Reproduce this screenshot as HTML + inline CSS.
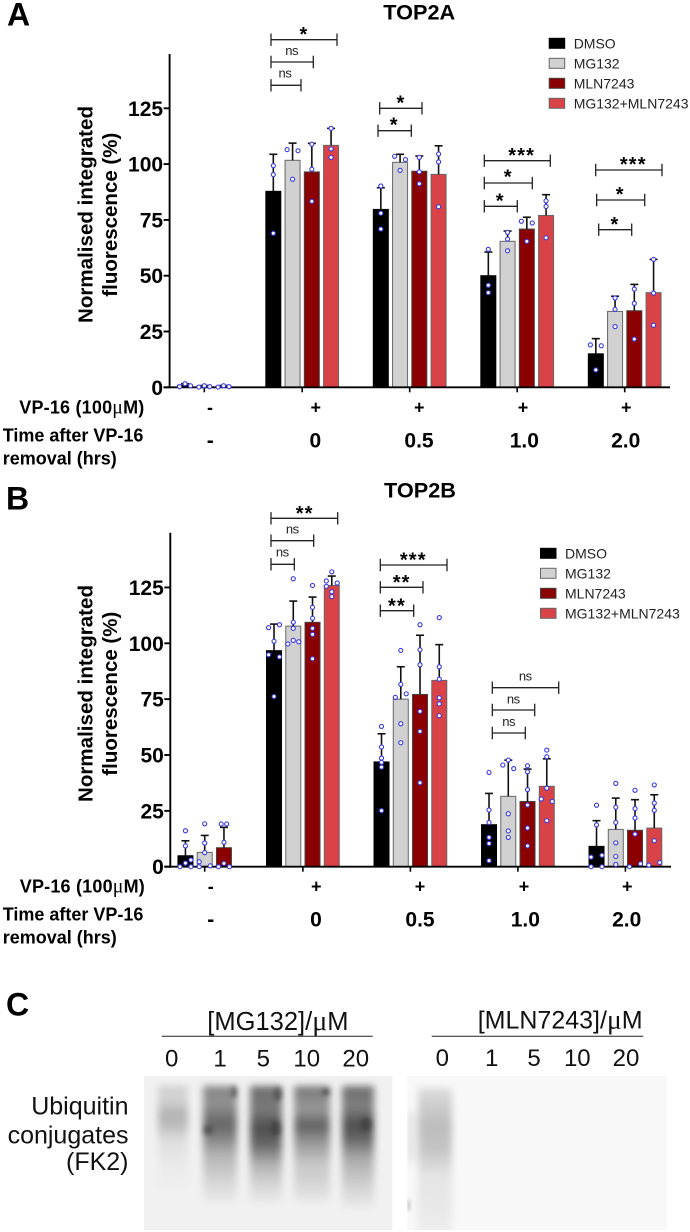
<!DOCTYPE html>
<html lang="en">
<head>
<meta charset="utf-8">
<title>TOP2A and TOP2B normalised fluorescence with ubiquitin blot</title>
<style>
html,body{margin:0;padding:0;background:#fff;}
svg{display:block;font-family:"Liberation Sans",sans-serif;}
.b{font-weight:bold;fill:#000;}
.mu{font-family:"Liberation Serif",serif;font-weight:normal;font-size:1.1em;}
</style>
</head>
<body>
<svg id="figure" xmlns="http://www.w3.org/2000/svg" width="690" height="1232" viewBox="0 0 690 1232">
  <defs>
    <filter id="blur-lane" x="-40%" y="-20%" width="180%" height="140%"><feGaussianBlur stdDeviation="3.6"/></filter>
    <filter id="blur-spot" x="-100%" y="-100%" width="300%" height="300%"><feGaussianBlur stdDeviation="2"/></filter>
    <clipPath id="clip-blot-left"><rect x="144" y="1076" width="248.3" height="154"/></clipPath>
    <clipPath id="clip-blot-right"><rect x="407.3" y="1076" width="259.4" height="154"/></clipPath>
    <linearGradient id="lane1" gradientUnits="userSpaceOnUse" x1="0" y1="1086" x2="0" y2="1190">
      <stop offset="0" stop-color="#cdcdcd"/><stop offset=".12" stop-color="#d4d4d4"/><stop offset=".28" stop-color="#b2b2b2"/><stop offset=".38" stop-color="#bcbcbc"/><stop offset=".52" stop-color="#dedede"/><stop offset=".8" stop-color="#ebebeb"/><stop offset="1" stop-color="#f0f0f0"/>
    </linearGradient>
    <linearGradient id="lane2" gradientUnits="userSpaceOnUse" x1="0" y1="1086" x2="0" y2="1203">
      <stop offset="0" stop-color="#858585"/><stop offset=".15" stop-color="#929292"/><stop offset=".32" stop-color="#666"/><stop offset=".42" stop-color="#7c7c7c"/><stop offset=".58" stop-color="#b2b2b2"/><stop offset=".82" stop-color="#d6d6d6"/><stop offset="1" stop-color="#ebebeb"/>
    </linearGradient>
    <linearGradient id="lane3" gradientUnits="userSpaceOnUse" x1="0" y1="1086" x2="0" y2="1203">
      <stop offset="0" stop-color="#6e6e6e"/><stop offset=".2" stop-color="#7a7a7a"/><stop offset=".36" stop-color="#4e4e4e"/><stop offset=".5" stop-color="#686868"/><stop offset=".68" stop-color="#b4b4b4"/><stop offset=".86" stop-color="#d8d8d8"/><stop offset="1" stop-color="#eaeaea"/>
    </linearGradient>
    <linearGradient id="lane4" gradientUnits="userSpaceOnUse" x1="0" y1="1086" x2="0" y2="1203">
      <stop offset="0" stop-color="#787878"/><stop offset=".2" stop-color="#989898"/><stop offset=".34" stop-color="#606060"/><stop offset=".46" stop-color="#909090"/><stop offset=".65" stop-color="#c4c4c4"/><stop offset=".86" stop-color="#d8d8d8"/><stop offset="1" stop-color="#ebebeb"/>
    </linearGradient>
    <linearGradient id="lane5" gradientUnits="userSpaceOnUse" x1="0" y1="1086" x2="0" y2="1208">
      <stop offset="0" stop-color="#6e6e6e"/><stop offset=".17" stop-color="#808080"/><stop offset=".32" stop-color="#505050"/><stop offset=".42" stop-color="#626262"/><stop offset=".6" stop-color="#acacac"/><stop offset=".84" stop-color="#d4d4d4"/><stop offset="1" stop-color="#ebebeb"/>
    </linearGradient>
    <linearGradient id="lane6" gradientUnits="userSpaceOnUse" x1="0" y1="1086" x2="0" y2="1230">
      <stop offset="0" stop-color="#dedede"/><stop offset=".28" stop-color="#bcbcbc"/><stop offset=".45" stop-color="#c6c6c6"/><stop offset=".62" stop-color="#e4e4e4"/><stop offset=".85" stop-color="#e8e8e8"/><stop offset="1" stop-color="#eeeeee"/>
    </linearGradient>
  </defs>

  <!-- Panel letters and titles -->
  <text class="b" x="7" y="25.3" font-size="32">A</text>
  <text class="b" x="383.3" y="19.3" font-size="21.7">TOP2A</text>
  <text class="b" x="6" y="509.3" font-size="32">B</text>
  <text class="b" x="384" y="497.7" font-size="21.7">TOP2B</text>
  <text class="b" x="6" y="1015.5" font-size="32">C</text>

  <!-- Y axis titles -->
  <g>
    <text class="b" font-size="20.5" text-anchor="middle" textLength="217" transform="translate(92.5,214.5) rotate(-90)">Normalised integrated</text>
    <text class="b" font-size="20.5" text-anchor="middle" textLength="164" transform="translate(117,214.7) rotate(-90)">fluorescence (%)</text>
  </g>
  <g>
    <text class="b" font-size="20.5" text-anchor="middle" textLength="217" transform="translate(92.5,693.5) rotate(-90)">Normalised integrated</text>
    <text class="b" font-size="20.5" text-anchor="middle" textLength="164" transform="translate(117,693.7) rotate(-90)">fluorescence (%)</text>
  </g>

  <!-- Row labels panel A -->
  <text class="b" x="144.5" y="413.3" font-size="18" text-anchor="end" letter-spacing="0.2">VP-16 (100<tspan class="mu">μ</tspan>M)</text>
  <text class="b" x="2.7" y="441.7" font-size="18">Time after VP-16</text>
  <text class="b" x="2.7" y="464.3" font-size="18">removal (hrs)</text>
  <g class="b" font-size="18" text-anchor="middle">
    <text x="210" y="413.3">-</text><text x="315.7" y="413.3">+</text><text x="419.3" y="413.3">+</text><text x="523" y="413.3">+</text><text x="626.3" y="413.3">+</text>
  </g>
  <g class="b" font-size="21" text-anchor="middle">
    <text x="210.3" y="447.3">-</text><text x="315.3" y="447.3">0</text><text x="419" y="447.3">0.5</text><text x="524.3" y="447.3">1.0</text><text x="625.7" y="447.3">2.0</text>
  </g>

  <!-- Row labels panel B -->
  <text class="b" x="145" y="892.7" font-size="18" text-anchor="end" letter-spacing="0.2">VP-16 (100<tspan class="mu">μ</tspan>M)</text>
  <text class="b" x="2.7" y="920.7" font-size="18">Time after VP-16</text>
  <text class="b" x="2.7" y="943.3" font-size="18">removal (hrs)</text>
  <g class="b" font-size="18" text-anchor="middle">
    <text x="210.7" y="892.7">-</text><text x="316.3" y="892.7">+</text><text x="420" y="892.7">+</text><text x="524" y="892.7">+</text><text x="627.3" y="892.7">+</text>
  </g>
  <g class="b" font-size="21" text-anchor="middle">
    <text x="210.7" y="926.7">-</text><text x="316" y="926.7">0</text><text x="420" y="926.7">0.5</text><text x="525.3" y="926.7">1.0</text><text x="626.7" y="926.7">2.0</text>
  </g>

  <!-- Panel C -->
  <g>
    <rect x="144" y="1076" width="248.3" height="154" fill="#f1f1f1"/>
    <g clip-path="url(#clip-blot-left)">
      <g filter="url(#blur-lane)">
        <rect x="158" y="1086" width="30" height="104" fill="url(#lane1)"/>
        <rect x="203" y="1086" width="34" height="117" fill="url(#lane2)"/>
        <rect x="250" y="1086" width="32" height="117" fill="url(#lane3)"/>
        <rect x="294" y="1086" width="36" height="117" fill="url(#lane4)"/>
        <rect x="342" y="1086" width="32" height="122" fill="url(#lane5)"/>
      </g>
      <g filter="url(#blur-spot)" fill="#333" fill-opacity=".5">
        <ellipse cx="234" cy="1092" rx="3" ry="6"/>
        <ellipse cx="278" cy="1094" rx="4" ry="7"/>
        <ellipse cx="326" cy="1092" rx="4" ry="4"/>
        <ellipse cx="208" cy="1130" rx="5" ry="5"/>
        <ellipse cx="276" cy="1128" rx="5" ry="8"/>
        <ellipse cx="366" cy="1124" rx="6" ry="7"/>
      </g>
    </g>
  </g>
  <g>
    <rect x="407.3" y="1076" width="259.4" height="154" fill="#f8f8f8"/>
    <g clip-path="url(#clip-blot-right)">
      <g filter="url(#blur-lane)">
        <rect x="418" y="1088" width="34" height="148" fill="url(#lane6)"/>
        <rect x="407" y="1112" width="7" height="50" fill="#e2e2e2"/>
      </g>
      <ellipse cx="408" cy="1205" rx="1.5" ry="6" fill="#aaa" filter="url(#blur-spot)"/>
    </g>
  </g>
  <text x="207.3" y="1030" font-size="25.5" fill="#111">[MG132]/<tspan class="mu">μ</tspan>M</text>
  <line x1="161.7" x2="372.7" y1="1036.3" y2="1036.3" stroke="#222" stroke-width="1"/>
  <g font-size="24" fill="#111" text-anchor="middle">
    <text x="171.7" y="1066.7">0</text><text x="220" y="1066.7">1</text><text x="263.3" y="1066.7">5</text><text x="306.7" y="1066.7">10</text><text x="355.7" y="1066.7">20</text>
  </g>
  <text x="477.7" y="1028.3" font-size="25" fill="#111">[MLN7243]/<tspan class="mu">μ</tspan>M</text>
  <line x1="431.7" x2="643.3" y1="1036.3" y2="1036.3" stroke="#222" stroke-width="1"/>
  <g font-size="24" fill="#111" text-anchor="middle">
    <text x="442.3" y="1066">0</text><text x="491.7" y="1066">1</text><text x="534" y="1066">5</text><text x="577.3" y="1066">10</text><text x="626" y="1066">20</text>
  </g>
  <g font-size="25" fill="#111" text-anchor="end">
    <text x="128.5" y="1114.3">Ubiquitin</text><text x="128.5" y="1143.3">conjugates</text><text x="128.5" y="1170">(FK2)</text>
  </g>
</svg>

<script>
// Shared categories and tick labels
const seriesNames = ['DMSO', 'MG132', 'MLN7243', 'MG132+MLN7243'];
const seriesFill = ['#000000', '#d1d1d1', '#8b0000', '#d94247'];
const seriesStroke = ['#000000', '#666666', '#444444', '#666666'];
const yTickValues = [0, 25, 50, 75, 100, 125];

// Panel A (TOP2A): values
const top2aMeans = [
  [0.9, 0.5, 0.5],
  [87.8, 101.7, 96.5, 108.4],
  [79.7, 100.8, 96.8, 95.4],
  [50, 65.4, 70.9, 77],
  [15, 34, 34.3, 42.4]
];
const top2aErrors = [
  [1.6, 0.8, 0.8],
  [104.4, 109.4, 109.3, 116],
  [89.4, 104.4, 103.6, 108.2],
  [60.6, 70, 76.2, 86.3],
  [21.8, 40.8, 46.1, 57.3]
];
const top2aPoints = [
  [[0.3, 1.6, 0.7], [0.1, 0.7, 0.3], [0.1, 0.7, 0.3]],
  [[99.3, 95.3, 69], [106.5, 106, 93.2], [108.9, 97.7, 83.3], [116, 106.8, 103]],
  [[90.2, 78, 70.9], [103.5, 102, 97.2], [103, 96.5, 91.2], [104.5, 101, 80.9]],
  [[61.8, 45.7, 42.4], [69.4, 66.4, 61.2], [74.4, 73.6, 65.4], [83.5, 81, 67]],
  [[19, 18.6, 7.8], [40, 34.9, 27.2], [44, 37.6, 21.6], [57.3, 42.2, 27.8]]
];
const top2aJitterSlots = [
  [[-1, 0, 1], [-1, 0, 1], [-1, 0, 1]],
  [[0, 0, 0], [-1, 1, 0], [0, 0, 0], [0, 0, 0]],
  [[0, 0, 0], [-1, 1, 0], [0, 0, 0], [0, 0, 0]],
  [[0, 0, 0], [0, 0, 0], [-1, 1, 0], [0, 0, 0]],
  [[-1, 1, 0], [0, 0, 0], [0, 0, 0], [0, 0, 0]]
];

// Panel B (TOP2B): values
const top2bMeans = [
  [4.9, 6.4, 8.5],
  [96.7, 107.7, 109.4, 125.9],
  [46.9, 75, 77.1, 83.4],
  [18.8, 31.5, 29.2, 36],
  [9.1, 16.7, 16.3, 17.3]
];
const top2bErrors = [
  [11.6, 14, 17.6],
  [108.6, 118.9, 120.7, 130.1],
  [59.5, 89.5, 103.6, 99.4],
  [32.8, 47.7, 43.7, 48.3],
  [20.6, 30.7, 30, 32.2]
];
const top2bPoints = [
  [[0, 1.6, 3, 0, 9.3, 16.1], [0, 0.4, 2.2, 6.3, 10.6, 19.2], [0, 0, 1.5, 10.9, 19.1, 19.1]],
  [[107, 108.3, 100.9, 94.9, 93.9, 76.2], [128.9, 109.4, 106.7, 99.7, 101.3, 100.7], [125.9, 116.1, 111.2, 106.7, 104, 93.1], [132, 127.9, 127, 125.5, 123.1, 120.9]],
  [[62.8, 53.6, 48.6, 46.7, 44.6, 25.1], [96.8, 81.6, 77.4, 75.8, 64, 55.5], [108.3, 97.1, 90.4, 69.5, 60.6, 37.6], [111.5, 89.5, 83.9, 75.6, 72.9, 67.6]],
  [[42.2, 25.4, 19.8, 13.1, 10.4, 2.7], [47.7, 45.5, 43.9, 23.7, 16, 13.1], [45.2, 42.5, 34.5, 27.6, 17.3, 9.3], [52.2, 49.2, 35.1, 30.3, 29.2, 20.6]],
  [[27.5, 18.7, 4.3, 5.1, 0, 0], [37.3, 26.6, 19.8, 10.7, 4.6, 1], [34.2, 26, 21.8, 14.6, 0, 1.3], [36.6, 28.5, 25.2, 11.6, 0.7, 1.9]]
];
const top2bJitterSlots = [
  [[-1, 0, 1, 1, 0, 0], [-1, 1, -1, 0, 0, 0], [-1, 1, 0, 0, -0.5, 0.5]],
  [[-1, 1, 0, -1, 1, 0], [0, 0, 0, -1, 0, 1], [0, 0, 0, 0, 0, 0], [0, -1, 1, -1, 0, 0]],
  [[0, 0, 0, 0, 0, 0], [0, 0, 1, -1, 0, 0], [0, 0, 0, 0, 0, 0], [0, 0, 0, 0, 0, 0]],
  [[0, 0, 0, 0, 0, 0], [0, -1, 1, 0, 0, 0], [0, 0, 0, 0, 0, 0], [0, 0, 0, -1, 1, 0]],
  [[0, 0, -1, 1, -1, 1], [0, 0, 0, 0, 0, 0], [0, 0, 0, 0, -1, 1], [0, 0, 0, 0, -1, 1]]
];

const SVG_NS = 'http://www.w3.org/2000/svg';
const figure = document.getElementById('figure');

function make(tag, attrs, parent) {
  const el = document.createElementNS(SVG_NS, tag);
  for (const key in attrs) el.setAttribute(key, attrs[key]);
  (parent || figure).appendChild(el);
  return el;
}

function drawPanel(cfg) {
  const yScale = function (v) { return cfg.y0 - v * cfg.unit; };
  const groupCenter = function (g) { return g === 0 ? cfg.x0 : cfg.x1 + (g - 1) * cfg.dx; };
  const barCenter = function (g, s) { return groupCenter(g) + (s - (cfg.means[g].length - 1) / 2) * 19.25; };
  const slotWidth = 5.45;
  const barWidth = 15;

  const group = make('g', {});
  
  

  // bars
  cfg.means.forEach(function (row, g) {
    row.forEach(function (value, s) {
      const cx = barCenter(g, s);
      const bar = make('rect', {
        x: cx - barWidth / 2, y: yScale(value), width: barWidth, height: cfg.y0 - yScale(value),
        fill: seriesFill[s], stroke: seriesStroke[s], 'stroke-width': 1
      }, group);
      
      

      const top = yScale(cfg.errors[g][s]);
      const stem = make('line', {
        x1: cx, x2: cx, y1: yScale(value), y2: top, stroke: '#111', 'stroke-width': 1.6
      }, group);
      
      

      const cap = make('line', {
        x1: cx - 4, x2: cx + 4, y1: top, y2: top, stroke: '#111', 'stroke-width': 1.6
      }, group);
      
      
    });
  });

  // axes
  const yAxis = make('line', {
    x1: cfg.axisX, x2: cfg.axisX, y1: cfg.axisTop, y2: cfg.y0 + 1, stroke: '#000', 'stroke-width': 1.9
  }, group);
  
  

  const xAxis = make('line', {
    x1: cfg.axisX - 6, x2: cfg.axisRight, y1: cfg.y0, y2: cfg.y0, stroke: '#000', 'stroke-width': 1.9
  }, group);
  
  

  yTickValues.forEach(function (t) {
    const tick = make('line', {
      x1: cfg.axisX - 6, x2: cfg.axisX, y1: yScale(t), y2: yScale(t), stroke: '#000', 'stroke-width': 1.9
    }, group);
    
    

    const label = make('text', {
      x: cfg.axisX - 6.5, y: yScale(t) + 7.5, 'text-anchor': 'end', 'font-size': 21, 'font-weight': 'bold', fill: '#000'
    }, group);
    label.textContent = String(t);
    
    
  });

  cfg.means.forEach(function (row, g) {
    const tick = make('line', {
      x1: groupCenter(g), x2: groupCenter(g), y1: cfg.y0, y2: cfg.y0 + 5, stroke: '#000', 'stroke-width': 1.6
    }, group);
    
    
  });

  // points
  cfg.points.forEach(function (row, g) {
    row.forEach(function (values, s) {
      values.forEach(function (v, i) {
        const dot = make('circle', {
          cx: barCenter(g, s) + cfg.slots[g][s][i] * slotWidth, cy: yScale(v), r: 2.05,
          fill: '#fff', stroke: '#3a3ae0', 'stroke-width': 1.1
        }, group);
        
        
      });
    });
  });

  // legend
  seriesNames.forEach(function (name, s) {
    const cy = cfg.legendY + s * 20;
    const swatch = make('rect', {
      x: cfg.legendX, y: cy - 5, width: 15.5, height: 10,
      fill: seriesFill[s], stroke: seriesStroke[s], 'stroke-width': 1
    }, group);
    
    

    const text = make('text', {
      x: cfg.legendX + 24.5, y: cy + 5, 'font-size': 14, fill: '#222'
    }, group);
    text.textContent = name;
    
    
  });
}

function bracket(x1, x2, y, label, labelX, labelY) {
  const path = make('path', {
    d: 'M' + x1 + ' ' + (y - 6.2) + 'V' + (y + 6.2) + 'M' + x1 + ' ' + y + 'H' + x2 + 'M' + x2 + ' ' + (y - 6.2) + 'V' + (y + 6.2),
    fill: 'none', stroke: '#222', 'stroke-width': 1.3
  });
  
  

  const isStar = label.charAt(0) === '*';
  const text = make('text', {
    x: labelX, y: isStar ? labelY + 11.5 : labelY, 'text-anchor': 'middle',
    'font-size': isStar ? 20 : 13, 'font-weight': isStar ? 'bold' : 'normal',
    'letter-spacing': isStar ? 1.2 : -0.4, fill: isStar ? '#000' : '#222'
  });
  text.textContent = label;
  
  
}

drawPanel({
  means: top2aMeans, errors: top2aErrors, points: top2aPoints, slots: top2aJitterSlots,
  y0: 387.3, unit: 2.232, x0: 204.3, x1: 302.2, dx: 107.5,
  axisX: 169.6, axisTop: 54, axisRight: 670, legendX: 549.2, legendY: 43.3
});
drawPanel({
  means: top2bMeans, errors: top2bErrors, points: top2bPoints, slots: top2bJitterSlots,
  y0: 866.7, unit: 2.234, x0: 204.7, x1: 302.9, dx: 107.5,
  axisX: 170.3, axisTop: 532.7, axisRight: 671, legendX: 540.5, legendY: 553.3
});

// Panel A significance annotations
bracket(271, 337, 39.7, '*', 304, 29.5);
bracket(271, 313.3, 62, 'ns', 291.7, 55);
bracket(271, 301, 85.3, 'ns', 285, 77.7);
bracket(379.7, 422, 108.3, '*', 401, 98);
bracket(378, 411.3, 130.7, '*', 394.3, 120);
bracket(484.3, 550.3, 160.7, '***', 521.7, 150.7);
bracket(484.3, 532.3, 183, '*', 508.3, 172);
bracket(484.3, 517.3, 206.3, '*', 500.3, 196);
bracket(595.7, 662, 170, '***', 633.3, 159.3);
bracket(596.7, 644.7, 200, '*', 620.3, 189.3);
bracket(598.7, 631.7, 229.7, '*', 615, 219.3);

// Panel B significance annotations
bracket(271, 337.7, 518.3, '**', 304.7, 508.3);
bracket(271, 313.7, 540.7, 'ns', 292.3, 533.3);
bracket(271, 294.3, 564.3, 'ns', 282.3, 556.7);
bracket(380.3, 447, 565, '***', 413.3, 555);
bracket(380.3, 423, 587.3, '**', 401.7, 577.3);
bracket(380.3, 413.7, 610.7, '**', 397, 601);
bracket(492.3, 558.7, 687.7, 'ns', 525.3, 680.7);
bracket(492.3, 534.7, 710, 'ns', 513.3, 703.3);
bracket(492.3, 525.3, 733, 'ns', 508.7, 726);
</script>
</body>
</html>
